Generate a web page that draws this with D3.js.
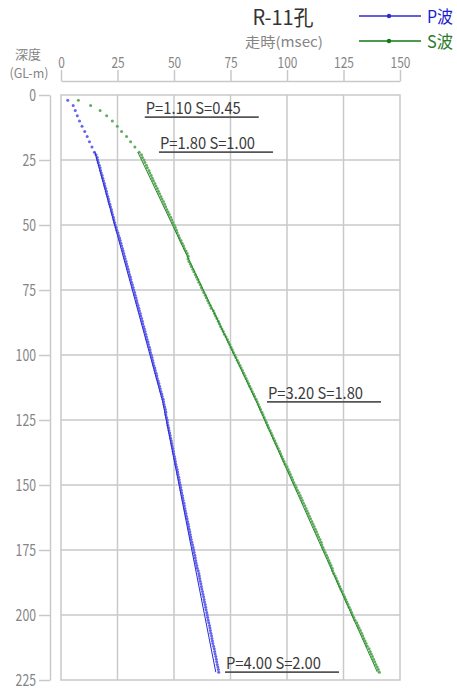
<!DOCTYPE html>
<html><head><meta charset="utf-8">
<script src="https://cdn.jsdelivr.net/npm/d3@7"></script>
<style>body{margin:0;background:#fff}svg{display:block}</style>
</head><body>
<script>
// ---- data ----
const title = "R-11孔";
const xTitle = "走時(msec)";
const yTitle = ["深度", "(GL-m)"];
const xTicks = [0, 25, 50, 75, 100, 125, 150];
const yTicks = [0, 25, 50, 75, 100, 125, 150, 175, 200, 225];
const seriesNames = ["P波", "S波"];

// measured depths (m)
const depths = [2,4,6,8,10,12,14,16,18,20,22,
23,24,25,26,27,28,29,30,31,32,
33,34,35,36,37,38,39,40,41,42,
43,44,45,46,47,48,49,50,51,52,
53,54,55,56,57,58,59,60,61,62,
63,64,65,66,67,68,69,70,71,72,
73,74,75,76,77,78,79,80,81,82,
83,84,85,86,87,88,89,90,91,92,
93,94,95,96,97,98,99,100,101,102,
103,104,105,106,107,108,109,110,111,112,
113,114,115,116,117,118,119,120,121,122,
123,124,125,126,127,128,129,130,131,132,
133,134,135,136,137,138,139,140,141,142,
143,144,145,146,147,148,149,150,151,152,
153,154,155,156,157,158,159,160,161,162,
163,164,165,166,167,168,169,170,171,172,
173,174,175,176,177,178,179,180,181,182,
183,184,185,186,187,188,189,190,191,192,
193,194,195,196,197,198,199,200,201,202,
203,204,205,206,207,208,209,210,211,212,
213,214,215,216,217,218,219,220,221,222];

// observed P-wave travel times (msec)
const pTimes = [3.0,5.4,6.3,7.2,8.2,9.3,10.5,11.6,12.6,13.7,14.8,
15.5,16.0,16.2,16.5,16.9,17.3,17.5,17.8,18.2,18.5,
18.8,19.2,19.4,19.8,20.1,20.3,20.7,21.0,21.2,21.6,
21.9,22.3,22.5,22.8,23.2,23.4,23.7,24.0,24.4,24.7,
25.2,25.5,25.9,26.2,26.5,26.8,27.2,27.5,27.8,28.1,
28.4,28.8,29.0,29.4,29.7,30.0,30.3,30.7,30.9,31.2,
31.6,31.9,32.2,32.6,32.8,33.2,33.5,33.7,34.1,34.4,
34.7,35.1,35.3,35.7,36.0,36.2,36.6,36.9,37.2,37.5,
37.8,38.1,38.5,38.7,39.1,39.4,39.6,40.0,40.3,40.5,
40.8,41.1,41.5,41.7,42.1,42.4,42.6,43.0,43.3,43.6,
43.9,44.2,44.6,44.8,45.2,45.4,45.6,45.9,46.2,46.4,
46.4,46.7,47.0,47.1,47.3,47.6,47.8,48.1,48.3,48.5,
48.8,49.0,49.2,49.5,49.7,49.9,50.2,50.4,50.6,50.8,
51.1,51.4,51.6,51.8,52.1,52.3,52.5,52.8,53.0,53.2,
53.4,53.7,53.9,54.1,54.4,54.6,54.8,55.0,55.3,55.5,
55.8,56.0,56.3,56.5,56.7,57.0,57.2,57.4,57.6,57.9,
58.2,58.5,58.7,58.9,59.2,59.4,59.6,59.8,60.1,60.3,
60.7,61.0,61.2,61.4,61.6,61.9,62.1,62.3,62.6,62.8,
63.1,63.3,63.5,63.8,64.0,64.2,64.5,64.7,64.9,65.1,
65.4,65.7,65.9,66.1,66.3,66.6,66.8,67.0,67.2,67.5,
67.8,68.0,68.2,68.5,68.7,68.9,69.1,69.4,69.6,69.8];

// observed S-wave travel times (msec)
const sTimes = [7.7,13.1,17.3,20.2,22.7,24.9,26.8,29.0,30.8,32.7,34.6,
35.6,36.0,36.7,37.1,37.8,38.2,38.9,39.3,39.9,40.4,
40.9,41.5,42.0,42.6,43.1,43.6,44.2,44.7,45.3,45.8,
46.3,46.8,47.4,47.9,48.5,49.0,49.5,50.1,50.6,51.1,
51.4,52.0,52.4,53.1,53.6,54.2,54.6,55.3,55.8,56.3,
56.2,56.6,57.2,57.7,58.3,58.8,59.4,59.9,60.5,61.0,
61.6,62.1,62.7,63.2,63.8,64.3,64.9,65.4,66.0,66.5,
67.4,67.9,68.4,69.0,69.6,70.1,70.6,71.2,71.8,72.3,
73.0,73.6,74.1,74.7,75.2,75.8,76.3,76.9,77.4,78.0,
78.6,79.2,79.7,80.3,80.8,81.4,81.9,82.4,83.0,83.5,
84.1,84.6,85.2,85.7,86.3,86.8,87.3,87.8,88.3,88.9,
89.4,89.9,90.4,90.9,91.4,91.9,92.5,93.0,93.5,94.0,
94.6,95.1,95.6,96.1,96.7,97.2,97.7,98.2,98.7,99.2,
100.0,100.5,101.0,101.5,102.0,102.5,103.0,103.6,104.1,104.6,
105.3,105.8,106.3,106.8,107.3,107.9,108.4,108.9,109.4,109.9,
110.4,111.0,111.5,112.0,112.5,113.0,113.5,114.0,114.6,115.1,
115.4,115.9,116.4,116.9,117.5,118.0,118.5,119.0,119.5,120.0,
120.2,120.7,121.3,121.8,122.3,122.8,123.3,123.8,124.4,124.9,
125.5,126.0,126.5,127.0,127.5,128.1,128.6,129.0,129.6,130.1,
130.9,131.4,131.9,132.5,133.0,133.5,134.0,134.5,135.0,135.5,
136.3,136.8,137.3,137.8,138.3,138.8,139.3,139.9,140.4,140.9];

// fitted travel-time lines
const fitDepths = [22, 118, 222];
const pFitTimes = [15.0, 45.0, 68.5];
const sFitTimes = [34.0, 86.5, 140.0];

// layer velocity labels (km/s) and layer bottoms (m)
const layerLabels = ["P=1.10 S=0.45", "P=1.80 S=1.00", "P=3.20 S=1.80", "P=4.00 S=2.00"];
const layerBottoms = [8.5, 22, 118, 222];
// label start (in msec) — layout
const labelStartT = [37.5, 43.8, 91.6, 73.0];

// ---- layout ----
const W = 457, H = 691;
const x = d3.scaleLinear().domain([0, 150]).range([61, 400]);
const y = d3.scaleLinear().domain([0, 225]).range([95, 680]);
const colP = "#2b2bd0", colPdot = "#6464ec";
const colS = "#2a8a2a", colSdot = "#60ac60";
const grid = "#c9c9c9", gray = "#858585";
const FONT = "'Noto Sans CJK JP', 'Noto Sans', sans-serif";

const svg = d3.select("body").append("svg").attr("width", W).attr("height", H)
  .style("font-family", FONT);

// plot frame and grid
const g = svg.append("g");
g.selectAll("line.vg").data(xTicks.slice(1, -1)).join("line")
  .attr("x1", d => x(d)).attr("x2", d => x(d)).attr("y1", y(0)).attr("y2", y(225))
  .attr("stroke", grid).attr("stroke-width", 1.5);
g.selectAll("line.hg").data(yTicks.slice(1, -1)).join("line")
  .attr("x1", x(0)).attr("x2", x(150)).attr("y1", d => y(d)).attr("y2", d => y(d))
  .attr("stroke", grid).attr("stroke-width", 1.5);
g.append("rect").attr("x", x(0)).attr("y", y(0)).attr("width", x(150) - x(0)).attr("height", y(225) - y(0))
  .attr("fill", "none").attr("stroke", grid).attr("stroke-width", 1.5);

// top axis
const xAxis = d3.axisTop(d3.scaleLinear().domain([0, 150]).range([61, 400]))
  .tickValues(xTicks).tickSize(11).tickPadding(2).tickSizeOuter(0);
const ax = svg.append("g").attr("transform", "translate(0,81)").call(xAxis);
ax.select(".domain").attr("stroke", grid).attr("stroke-width", 1.5);
ax.selectAll(".tick line").attr("stroke", grid).attr("stroke-width", 1.5);
ax.selectAll(".tick text").attr("fill", gray).style("font-size", "15px").style("font-family", FONT)
  .attr("textLength", d => String(d).length * 6.6).attr("lengthAdjust", "spacingAndGlyphs");

// left axis
const yAxis = d3.axisLeft(d3.scaleLinear().domain([0, 225]).range([95, 680]))
  .tickValues(yTicks).tickSize(11).tickPadding(3).tickSizeOuter(0);
const ay = svg.append("g").attr("transform", "translate(50,0)").call(yAxis);
ay.select(".domain").attr("stroke", grid).attr("stroke-width", 1.5);
ay.selectAll(".tick line").attr("stroke", grid).attr("stroke-width", 1.5);
ay.selectAll(".tick text").attr("fill", gray).style("font-size", "16px").style("font-family", FONT)
  .attr("textLength", d => String(d).length * 6.8).attr("lengthAdjust", "spacingAndGlyphs");

// axis titles
svg.append("text").attr("x", 28).attr("y", 59).attr("text-anchor", "middle")
  .attr("fill", gray).style("font-size", "13px").text(yTitle[0]);
svg.append("text").attr("x", 29).attr("y", 78).attr("text-anchor", "middle")
  .attr("fill", gray).style("font-size", "13px")
  .attr("textLength", 39).attr("lengthAdjust", "spacingAndGlyphs").text(yTitle[1]);
svg.append("text").attr("x", 283).attr("y", 25).attr("text-anchor", "middle")
  .attr("fill", "#333").style("font-size", "21px")
  .attr("textLength", 61).attr("lengthAdjust", "spacingAndGlyphs").text(title);
svg.append("text").attr("x", 284).attr("y", 47).attr("text-anchor", "middle")
  .attr("fill", gray).style("font-size", "14px")
  .attr("textLength", 78).attr("lengthAdjust", "spacingAndGlyphs").text(xTitle);

// legend
const legend = [
  { name: seriesNames[0], col: colP, tcol: "#1a1ad0", ly: 16 },
  { name: seriesNames[1], col: "#127a12", tcol: "#2a7a2a", ly: 41 }
];
const lg = svg.selectAll("g.leg").data(legend).join("g");
lg.append("line").attr("x1", 359).attr("x2", 421).attr("y1", d => d.ly).attr("y2", d => d.ly)
  .attr("stroke", d => d.col).attr("stroke-width", 1.3);
lg.append("circle").attr("cx", 389).attr("cy", d => d.ly).attr("r", 2.2).attr("fill", d => d.col);
lg.append("text").attr("x", 427).attr("y", d => d.ly + 7).attr("fill", d => d.tcol)
  .style("font-size", "17px").attr("textLength", 26).attr("lengthAdjust", "spacingAndGlyphs")
  .text(d => d.name);

// observation dots
svg.append("g").selectAll("circle").data(depths.map((d, i) => [d, pTimes[i]])).join("circle")
  .attr("cx", d => x(d[1])).attr("cy", d => y(d[0])).attr("r", 1.5).attr("fill", colPdot);
svg.append("g").selectAll("circle").data(depths.map((d, i) => [d, sTimes[i]])).join("circle")
  .attr("cx", d => x(d[1])).attr("cy", d => y(d[0])).attr("r", 1.5).attr("fill", colSdot);

// fitted lines
const line = d3.line().x(d => x(d[1])).y(d => y(d[0]));
svg.append("path").datum(fitDepths.map((d, i) => [d, pFitTimes[i]])).attr("d", line)
  .attr("fill", "none").attr("stroke", colP).attr("stroke-width", 1);
svg.append("path").datum(fitDepths.map((d, i) => [d, sFitTimes[i]])).attr("d", line)
  .attr("fill", "none").attr("stroke", colS).attr("stroke-width", 1);

// layer labels with underline
const lab = svg.selectAll("g.lab").data(layerLabels.map((t, i) => ({ t, d: layerBottoms[i], s: labelStartT[i] }))).join("g");
lab.append("text").attr("x", d => x(d.s)).attr("y", d => y(d.d) - 3)
  .attr("fill", "#3a3a3a").style("font-size", "16px")
  .attr("textLength", 95).attr("lengthAdjust", "spacingAndGlyphs").text(d => d.t);
lab.append("line").attr("x1", d => x(d.s) - 1).attr("x2", d => x(d.s) + 113)
  .attr("y1", d => y(d.d)).attr("y2", d => y(d.d)).attr("stroke", "#555").attr("stroke-width", 1.8);
</script>
</body></html>
